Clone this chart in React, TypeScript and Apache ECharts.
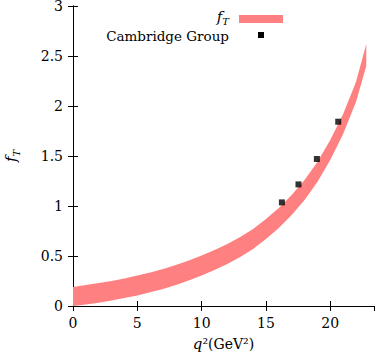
import React, { useEffect, useRef } from "react";
import * as echarts from "echarts";

// q^2 grid of the f_T band (GeV^2)
const bandQ = [0, 1, 2, 3, 4, 5, 6, 7, 8, 9, 10, 11, 12, 13, 14, 15, 16, 17, 18, 19, 20, 21, 22, 22.8];
const bandUpper = [0.19, 0.21, 0.23, 0.25, 0.275, 0.305, 0.335, 0.37, 0.41, 0.455, 0.505, 0.56, 0.62, 0.69, 0.77, 0.87, 0.98, 1.11, 1.26, 1.44, 1.66, 1.92, 2.24, 2.62];
const bandLower = [0.0, 0.015, 0.033, 0.055, 0.08, 0.105, 0.137, 0.17, 0.21, 0.255, 0.305, 0.36, 0.42, 0.49, 0.57, 0.67, 0.78, 0.91, 1.06, 1.24, 1.46, 1.72, 2.04, 2.4];

// Cambridge Group points
const camQ = [16.24, 17.53, 18.96, 20.62];
const camF = [1.036, 1.216, 1.47, 1.843];

const xTicks = [0, 5, 10, 15, 20];
const yTicks = [0, 0.5, 1, 1.5, 2, 2.5, 3];

const FONT = "'DejaVu Serif', serif";
const BAND_COLOR = "#ff8080";

export default function App() {
  const ref = useRef<HTMLDivElement>(null);
  useEffect(() => {
    if (!ref.current) return;
    const chart = echarts.init(ref.current, null, { renderer: "svg" });
    const axisCommon = {
      type: "value" as const,
      axisLine: { show: true, lineStyle: { color: "#000", width: 1 } },
      axisTick: { show: true, inside: true, length: 5, lineStyle: { color: "#000" } },
      splitLine: { show: false },
    };
    chart.setOption({
      animation: false,
      textStyle: { fontFamily: FONT },
      grid: { left: 73, right: 1, top: 6, bottom: 49, containLabel: false, outerBoundsMode: "none" },
      xAxis: [
        {
          ...axisCommon,
          position: "bottom",
          min: 0,
          max: 23.4,
          interval: 5,
          axisLabel: {
            show: true,
            margin: 10,
            fontFamily: FONT,
            fontSize: 14,
            color: "#000",
            showMaxLabel: false,
            formatter: (v: number) => (xTicks.includes(v) ? String(v) : ""),
          },
          name: "{i|q}{n|²(GeV²)}",
          nameLocation: "middle",
          nameGap: 30,
          nameTextStyle: {
            fontFamily: FONT,
            fontSize: 14,
            color: "#000",
            rich: {
              i: { fontFamily: FONT, fontSize: 15, fontStyle: "italic", color: "#000" },
              n: { fontFamily: FONT, fontSize: 14, color: "#000" },
            },
          },
        },
        {
          ...axisCommon,
          position: "top",
          min: 0,
          max: 23.4,
          interval: 5,
          axisLabel: { show: false },
        },
      ],
      yAxis: [
        {
          ...axisCommon,
          position: "left",
          min: 0,
          max: 3,
          interval: 0.5,
          axisLabel: {
            show: true,
            margin: 10,
            fontFamily: FONT,
            fontSize: 14,
            color: "#000",
            formatter: (v: number) => (yTicks.includes(v) ? String(v) : ""),
          },
          name: "{f|f}{s|T}",
          nameLocation: "middle",
          nameRotate: 90,
          nameGap: 55,
          nameTextStyle: {
            rich: {
              f: { fontFamily: FONT, fontSize: 15, fontStyle: "italic", color: "#000", lineHeight: 20, verticalAlign: "bottom" },
              s: { fontFamily: FONT, fontSize: 10, fontStyle: "italic", color: "#000", lineHeight: 20, verticalAlign: "bottom", padding: [0, 0, -3, 0] },
            },
          },
        },
        {
          ...axisCommon,
          position: "right",
          min: 0,
          max: 3,
          interval: 0.5,
          axisLabel: { show: false },
        },
      ],
      series: [
        {
          type: "custom",
          xAxisIndex: 0,
          yAxisIndex: 0,
          silent: true,
          data: [[0, 0]],
          renderItem: (_params: any, api: any) => {
            const pts: number[][] = [];
            for (let i = 0; i < bandQ.length; i++) pts.push(api.coord([bandQ[i], bandUpper[i]]));
            for (let i = bandQ.length - 1; i >= 0; i--) pts.push(api.coord([bandQ[i], bandLower[i]]));
            return {
              type: "polygon",
              shape: { points: pts },
              style: { fill: BAND_COLOR, stroke: null },
            };
          },
          z: 1,
        },
        {
          type: "scatter",
          xAxisIndex: 0,
          yAxisIndex: 0,
          symbol: "rect",
          symbolSize: 6,
          itemStyle: { color: "#000" },
          data: camQ.map((q, i) => [q, camF[i]]),
          z: 3,
        },
      ],
      graphic: [
        {
          type: "text",
          x: 229,
          y: 16,
          style: {
            text: "{f|f}{s|T}",
            textAlign: "right",
            textVerticalAlign: "middle",
            rich: {
              f: { fontFamily: FONT, fontSize: 15, fontStyle: "italic", fill: "#000", lineHeight: 16, verticalAlign: "bottom" },
              s: { fontFamily: FONT, fontSize: 10, fontStyle: "italic", fill: "#000", lineHeight: 16, verticalAlign: "bottom", padding: [0, 0, -2, 0] },
            },
          },
        },
        {
          type: "rect",
          shape: { x: 239, y: 15, width: 44, height: 8 },
          style: { fill: BAND_COLOR },
        },
        {
          type: "text",
          x: 229,
          y: 36,
          style: {
            text: "Cambridge Group",
            textAlign: "right",
            textVerticalAlign: "middle",
            fontFamily: FONT,
            fontSize: 13.5,
            fill: "#000",
          },
        },
        {
          type: "rect",
          shape: { x: 258, y: 32, width: 6, height: 6 },
          style: { fill: "#000" },
        },
      ],
    });
    return () => chart.dispose();
  }, []);
  return (
    <div
      ref={ref}
      style={{ position: "fixed", left: 0, top: 0, width: 375, height: 355, background: "#fff" }}
    />
  );
}
